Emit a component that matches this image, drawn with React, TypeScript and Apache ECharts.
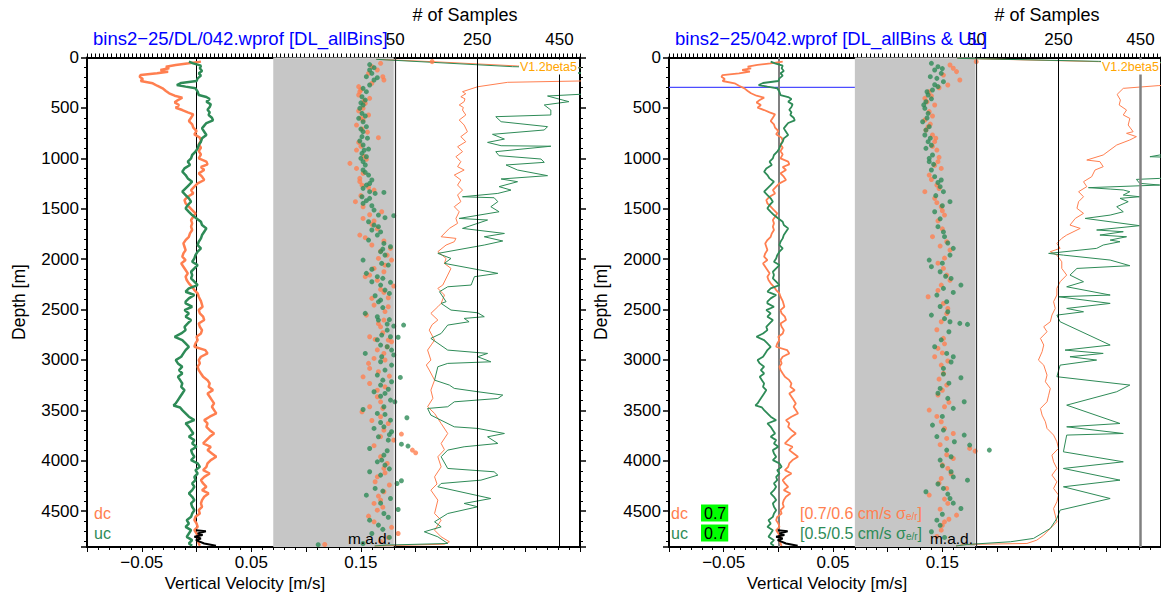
import React, { useEffect, useRef } from 'react';
import * as echarts from 'echarts';

const depthTicks = [0, 500, 1000, 1500, 2000, 2500, 3000, 3500, 4000, 4500];
const velTicks = [-0.05, 0.05, 0.15];
const sampleTicks = [50, 250, 450];

// [vertical velocity m/s, depth m]
const dcW = [[0.004,41],[-0.007,58],[-0.019,74],[-0.028,91],[-0.025,107],[-0.033,124],[-0.026,141],[-0.036,157],[-0.051,174],[-0.052,190],[-0.049,213],[-0.051,233],[-0.040,256],[-0.036,280],[-0.031,306],[-0.028,332],[-0.025,355],[-0.020,379],[-0.013,398],[-0.017,422],[-0.020,445],[-0.016,471],[-0.019,498],[-0.013,521],[-0.008,544],[-0.003,564],[-0.005,597],[-0.007,630],[-0.004,663],[-0.003,696],[0.000,729],[-0.002,762],[0.003,795],[0.004,828],[0.002,862],[0.004,895],[0.002,928],[0.004,961],[0.002,1000],[0.009,1033],[0.010,1060],[0.004,1086],[0.007,1116],[0.002,1149],[0.005,1182],[0.007,1215],[0.001,1248],[-0.002,1281],[-0.005,1315],[-0.003,1348],[-0.008,1381],[-0.011,1414],[-0.010,1447],[-0.007,1480],[-0.004,1513],[-0.001,1546],[-0.003,1579],[-0.005,1612],[-0.004,1645],[-0.005,1678],[-0.004,1711],[-0.006,1745],[-0.007,1778],[-0.010,1811],[-0.012,1844],[-0.011,1877],[-0.010,1910],[-0.012,1943],[-0.013,1976],[-0.010,2009],[-0.014,2042],[-0.012,2075],[-0.010,2108],[-0.008,2141],[-0.010,2174],[-0.009,2207],[-0.007,2240],[-0.004,2274],[-0.002,2307],[0.001,2340],[0.002,2373],[0.004,2416],[0.0055,2472],[0.002,2505],[0.003,2538],[0.006,2571],[0.007,2604],[0.002,2638],[0.003,2671],[0.005,2704],[0.004,2737],[0.000,2770],[0.001,2803],[-0.001,2836],[-0.002,2869],[0.008,2902],[0.010,2935],[0.004,2968],[0.002,3001],[0.003,3034],[0.001,3067],[0.002,3100],[0.004,3134],[0.006,3167],[0.010,3200],[0.012,3233],[0.011,3266],[0.015,3299],[0.010,3332],[0.012,3365],[0.014,3398],[0.016,3431],[0.014,3464],[0.016,3497],[0.018,3530],[0.012,3563],[0.007,3597],[0.010,3630],[0.009,3663],[0.012,3696],[0.016,3729],[0.012,3762],[0.009,3795],[0.006,3828],[0.013,3861],[0.010,3894],[0.014,3927],[0.018,3960],[0.013,3993],[0.010,4026],[0.009,4060],[0.006,4093],[0.012,4126],[0.007,4159],[0.004,4192],[0.006,4225],[0.009,4258],[0.005,4291],[0.011,4324],[0.007,4357],[0.005,4390],[0.004,4423],[0.005,4456],[0.002,4490],[0.003,4523],[-0.001,4556],[-0.002,4589],[0.000,4622],[0.001,4655],[-0.002,4688],[0.000,4721],[0.002,4754],[0.001,4787],[0.002,4820],[0.003,4843]];

const ucW = [[-0.007,41],[-0.003,58],[0.004,81],[0.003,107],[0.005,134],[0.002,157],[0.004,180],[0.001,207],[0.000,233],[-0.014,253],[-0.018,273],[-0.010,289],[-0.001,306],[0.001,339],[0.002,372],[0.009,392],[0.012,412],[0.009,438],[0.013,465],[0.012,491],[0.010,518],[0.012,544],[0.011,570],[0.014,597],[0.015,623],[0.009,650],[0.007,676],[0.005,703],[0.007,736],[0.009,769],[0.005,802],[0.004,835],[0.002,868],[0.001,901],[-0.001,934],[-0.004,967],[-0.005,1000],[-0.008,1033],[-0.006,1066],[-0.011,1100],[-0.013,1133],[-0.010,1166],[-0.008,1199],[-0.004,1232],[-0.007,1265],[-0.010,1298],[-0.013,1331],[-0.010,1364],[-0.007,1397],[-0.005,1430],[-0.008,1463],[-0.010,1496],[-0.007,1530],[-0.004,1563],[0.000,1596],[0.004,1629],[0.005,1662],[0.009,1695],[0.007,1728],[0.005,1761],[0.004,1794],[0.002,1827],[0.001,1860],[0.004,1893],[0.001,1926],[-0.001,1960],[-0.002,1993],[-0.004,2026],[0.001,2059],[-0.002,2092],[-0.005,2125],[-0.004,2158],[-0.005,2191],[-0.002,2224],[0.001,2257],[-0.007,2290],[-0.010,2323],[-0.002,2356],[-0.007,2389],[-0.010,2422],[-0.010,2439],[-0.004,2472],[-0.011,2505],[-0.007,2538],[-0.010,2571],[-0.005,2604],[-0.008,2638],[-0.011,2671],[-0.010,2704],[-0.014,2737],[-0.020,2770],[-0.013,2803],[-0.010,2836],[-0.007,2869],[-0.010,2902],[-0.012,2935],[-0.014,2968],[-0.019,3001],[-0.017,3034],[-0.013,3067],[-0.016,3100],[-0.013,3134],[-0.017,3167],[-0.015,3200],[-0.013,3233],[-0.014,3266],[-0.011,3299],[-0.013,3332],[-0.015,3365],[-0.017,3398],[-0.019,3431],[-0.021,3451],[-0.015,3471],[-0.013,3497],[-0.010,3530],[-0.007,3563],[-0.002,3597],[-0.010,3630],[-0.007,3663],[-0.005,3696],[-0.003,3729],[-0.007,3762],[-0.002,3795],[-0.004,3828],[0.000,3861],[-0.005,3894],[-0.004,3927],[-0.002,3960],[-0.005,3993],[0.001,4026],[0.003,4060],[-0.001,4093],[0.001,4126],[-0.002,4159],[-0.001,4192],[-0.004,4225],[-0.002,4258],[-0.004,4291],[-0.007,4324],[-0.004,4357],[-0.002,4390],[-0.005,4423],[-0.004,4456],[-0.002,4490],[-0.004,4523],[-0.005,4556],[-0.009,4589],[-0.007,4622],[-0.010,4655],[-0.005,4688],[-0.007,4721],[-0.009,4754],[-0.004,4787],[-0.007,4820],[-0.004,4843]];

const btW = [[-0.0006,4688],[0.0085,4698],[0.001,4721],[0.0055,4737],[-0.002,4754],[0.004,4771],[-0.0006,4787],[0.007,4820],[0.0177,4843]];

// m.a.d. dots [m/s, depth m]
const dcMadL = [[0.215,41],[0.168,58],[0.160,90],[0.165,124],[0.157,157],[0.170,190],[0.171,223],[0.160,256],[0.148,289],[0.150,320],[0.149,339],[0.148,372],[0.158,405],[0.153,430],[0.154,455],[0.152,504],[0.148,530],[0.157,570],[0.150,600],[0.152,620],[0.146,670],[0.151,709],[0.156,740],[0.166,795],[0.148,842],[0.150,880],[0.146,918],[0.153,980],[0.155,1010],[0.140,1050],[0.146,1100],[0.152,1149],[0.149,1199],[0.149,1230],[0.151,1265],[0.157,1290],[0.162,1315],[0.150,1370],[0.145,1430],[0.152,1480],[0.169,1530],[0.158,1560],[0.152,1596],[0.162,1622],[0.160,1655],[0.165,1700],[0.149,1761],[0.154,1787],[0.171,1820],[0.160,1860],[0.177,1893],[0.168,1920],[0.174,1960],[0.166,1993],[0.178,2009],[0.172,2060],[0.162,2092],[0.171,2125],[0.158,2158],[0.154,2174],[0.165,2210],[0.180,2267],[0.168,2300],[0.171,2330],[0.175,2383],[0.160,2389],[0.162,2456],[0.175,2472],[0.172,2520],[0.155,2555],[0.171,2604],[0.166,2640],[0.168,2671],[0.170,2730],[0.158,2770],[0.163,2796],[0.175,2803],[0.178,2819],[0.174,2869],[0.165,2900],[0.171,2935],[0.162,2985],[0.172,3000],[0.157,3034],[0.158,3084],[0.166,3117],[0.176,3160],[0.152,3167],[0.158,3233],[0.172,3266],[0.165,3300],[0.165,3365],[0.168,3415],[0.158,3464],[0.170,3480],[0.151,3514],[0.168,3563],[0.160,3600],[0.175,3630],[0.171,3696],[0.187,3735],[0.168,3760],[0.180,3795],[0.162,3850],[0.197,3894],[0.200,3921],[0.168,3960],[0.174,4026],[0.171,4076],[0.172,4120],[0.165,4159],[0.163,4208],[0.176,4240],[0.171,4307],[0.166,4350],[0.168,4390],[0.162,4423],[0.170,4460],[0.165,4490],[0.157,4549],[0.162,4605],[0.178,4660],[0.184,4721],[0.175,4761],[0.168,4800],[0.117,4830]];

const ucMadL = [[0.158,70],[0.162,101],[0.158,124],[0.160,157],[0.155,190],[0.165,200],[0.162,223],[0.158,273],[0.152,306],[0.155,339],[0.151,389],[0.154,422],[0.150,450],[0.152,471],[0.149,504],[0.151,554],[0.154,580],[0.148,603],[0.152,637],[0.155,686],[0.150,710],[0.152,736],[0.151,785],[0.156,800],[0.149,828],[0.152,868],[0.157,908],[0.153,920],[0.151,951],[0.155,984],[0.150,1000],[0.152,1033],[0.154,1066],[0.152,1116],[0.154,1140],[0.157,1166],[0.160,1215],[0.158,1250],[0.155,1265],[0.152,1298],[0.158,1331],[0.163,1348],[0.171,1338],[0.151,1381],[0.158,1397],[0.155,1420],[0.152,1447],[0.160,1470],[0.162,1513],[0.166,1563],[0.172,1589],[0.180,1569],[0.157,1629],[0.162,1662],[0.166,1678],[0.160,1711],[0.168,1730],[0.165,1761],[0.157,1811],[0.171,1844],[0.177,1877],[0.170,1900],[0.168,1926],[0.172,1960],[0.152,2009],[0.169,2042],[0.175,2059],[0.160,2100],[0.155,2141],[0.165,2174],[0.170,2190],[0.160,2224],[0.177,2230],[0.168,2257],[0.172,2307],[0.176,2340],[0.163,2363],[0.168,2406],[0.166,2423],[0.170,2480],[0.154,2538],[0.165,2571],[0.166,2604],[0.176,2600],[0.174,2644],[0.180,2664],[0.189,2654],[0.174,2704],[0.169,2753],[0.177,2770],[0.184,2775],[0.165,2800],[0.168,2852],[0.174,2869],[0.178,2902],[0.154,2935],[0.180,2950],[0.169,2968],[0.168,3018],[0.178,3051],[0.172,3100],[0.165,3150],[0.186,3173],[0.170,3200],[0.178,3216],[0.168,3249],[0.175,3290],[0.162,3315],[0.172,3332],[0.168,3360],[0.177,3398],[0.181,3415],[0.171,3464],[0.152,3491],[0.165,3530],[0.172,3540],[0.177,3597],[0.192,3573],[0.168,3620],[0.171,3663],[0.162,3679],[0.178,3712],[0.176,3740],[0.166,3762],[0.175,3795],[0.187,3835],[0.193,3854],[0.158,3878],[0.174,3900],[0.171,3944],[0.169,3993],[0.165,4010],[0.172,4043],[0.176,4080],[0.158,4109],[0.168,4142],[0.183,4225],[0.187,4198],[0.163,4274],[0.170,4300],[0.155,4341],[0.177,4374],[0.168,4420],[0.184,4483],[0.171,4523],[0.175,4560],[0.158,4589],[0.166,4638],[0.170,4680],[0.160,4721],[0.176,4760],[0.152,4820],[0.111,4832]];

const dcMadR = [[0.181,41],[0.157,74],[0.160,107],[0.163,140],[0.151,174],[0.166,223],[0.155,273],[0.147,300],[0.138,339],[0.140,380],[0.134,405],[0.136,440],[0.143,471],[0.138,537],[0.141,580],[0.134,620],[0.139,660],[0.137,686],[0.135,720],[0.141,769],[0.144,800],[0.143,835],[0.141,880],[0.145,918],[0.147,990],[0.146,1033],[0.143,1070],[0.149,1100],[0.138,1166],[0.140,1210],[0.145,1265],[0.147,1300],[0.134,1331],[0.143,1397],[0.145,1440],[0.149,1480],[0.150,1520],[0.152,1563],[0.146,1620],[0.150,1700],[0.141,1777],[0.154,1827],[0.148,1870],[0.157,1910],[0.152,1990],[0.146,2040],[0.151,2092],[0.154,2158],[0.157,2210],[0.149,2257],[0.146,2310],[0.137,2373],[0.151,2439],[0.155,2489],[0.154,2540],[0.149,2621],[0.145,2700],[0.151,2786],[0.152,2840],[0.146,2885],[0.150,2930],[0.143,2968],[0.155,3010],[0.149,3051],[0.151,3133],[0.147,3190],[0.154,3249],[0.150,3300],[0.146,3348],[0.156,3420],[0.152,3464],[0.138,3497],[0.145,3560],[0.149,3613],[0.152,3680],[0.160,3729],[0.154,3778],[0.148,3840],[0.175,3877],[0.180,3904],[0.154,3940],[0.160,3977],[0.150,4040],[0.155,4076],[0.158,4130],[0.149,4175],[0.147,4220],[0.154,4274],[0.138,4340],[0.152,4380],[0.155,4423],[0.148,4480],[0.163,4539],[0.156,4580],[0.152,4605],[0.150,4640],[0.149,4688],[0.145,4750]];

const ucMadR = [[0.140,58],[0.146,91],[0.150,110],[0.143,124],[0.149,157],[0.139,190],[0.145,207],[0.151,240],[0.143,270],[0.146,289],[0.141,322],[0.136,340],[0.137,372],[0.140,410],[0.135,438],[0.133,470],[0.134,504],[0.137,554],[0.136,600],[0.132,637],[0.138,686],[0.135,720],[0.134,769],[0.139,800],[0.137,835],[0.140,870],[0.135,901],[0.141,967],[0.138,1000],[0.138,1033],[0.142,1060],[0.140,1116],[0.143,1182],[0.149,1215],[0.146,1240],[0.148,1281],[0.151,1331],[0.144,1370],[0.157,1430],[0.150,1470],[0.143,1530],[0.148,1600],[0.146,1678],[0.151,1730],[0.152,1777],[0.155,1840],[0.160,1893],[0.157,1960],[0.138,2009],[0.150,2040],[0.140,2075],[0.148,2125],[0.153,2170],[0.158,2191],[0.167,2257],[0.151,2290],[0.160,2330],[0.145,2356],[0.154,2422],[0.148,2470],[0.155,2522],[0.140,2555],[0.152,2590],[0.157,2621],[0.166,2637],[0.173,2647],[0.156,2720],[0.149,2800],[0.143,2869],[0.154,2935],[0.160,2968],[0.158,3020],[0.151,3084],[0.151,3140],[0.167,3176],[0.156,3230],[0.148,3282],[0.146,3330],[0.155,3381],[0.170,3414],[0.160,3480],[0.150,3560],[0.141,3646],[0.151,3695],[0.170,3745],[0.145,3760],[0.161,3811],[0.175,3844],[0.154,3894],[0.193,3894],[0.158,3960],[0.148,3993],[0.150,4050],[0.158,4109],[0.160,4160],[0.173,4192],[0.146,4230],[0.151,4274],[0.135,4307],[0.155,4330],[0.157,4374],[0.160,4420],[0.167,4473],[0.150,4530],[0.145,4589],[0.148,4640],[0.140,4704],[0.152,4760]];

// number of samples [count, depth m]
const dcNL = [[4,18],[140,41],[348,84],[600,110],[600,200],[500,233],[324,246],[251,290],[214,339],[222,360],[210,389],[220,410],[218,438],[206,471],[216,495],[214,521],[222,570],[206,620],[218,670],[226,736],[210,785],[222,835],[202,885],[214,934],[198,984],[210,1033],[202,1083],[218,1116],[194,1166],[210,1215],[202,1265],[214,1315],[202,1364],[210,1430],[194,1480],[206,1530],[198,1596],[202,1645],[182,1695],[162,1778],[198,1794],[194,1827],[174,1860],[154,1926],[174,1993],[170,2042],[186,2092],[178,2158],[166,2257],[154,2290],[170,2356],[162,2439],[154,2472],[137,2538],[154,2604],[140,2650],[133,2704],[146,2803],[138,2850],[129,2902],[137,3001],[126,3050],[133,3100],[146,3200],[137,3299],[142,3380],[129,3464],[146,3530],[162,3630],[178,3729],[162,3828],[170,3890],[154,3960],[162,4060],[146,4159],[152,4230],[137,4291],[154,4390],[146,4523],[162,4589],[146,4688],[162,4754],[182,4803],[170,4827],[0,4845]];

const ucNL = [[4,18],[336,91],[600,110],[600,140],[478,154],[600,168],[600,350],[500,365],[421,382],[473,438],[413,471],[429,521],[429,570],[295,587],[308,637],[421,686],[413,719],[287,762],[316,809],[275,842],[308,875],[429,880],[295,934],[303,974],[405,1007],[413,1040],[320,1066],[348,1116],[421,1172],[308,1205],[348,1232],[303,1281],[332,1315],[300,1348],[214,1381],[291,1391],[300,1430],[283,1480],[303,1530],[206,1596],[275,1612],[214,1695],[316,1745],[267,1778],[312,1820],[267,1860],[154,1943],[186,1993],[170,2042],[300,2141],[243,2174],[235,2257],[178,2274],[158,2323],[174,2422],[162,2439],[186,2505],[251,2532],[267,2571],[218,2588],[230,2621],[178,2654],[162,2737],[137,2786],[178,2902],[275,2935],[251,2968],[283,3018],[178,3034],[154,3067],[146,3200],[182,3249],[194,3282],[251,3315],[312,3348],[300,3382],[194,3415],[178,3464],[129,3481],[137,3547],[194,3663],[251,3679],[316,3729],[275,3762],[300,3828],[218,3861],[178,3894],[162,3960],[178,4076],[291,4109],[300,4142],[259,4192],[162,4225],[154,4258],[283,4374],[218,4423],[251,4456],[178,4523],[146,4605],[162,4655],[121,4704],[154,4754],[178,4820],[28,4836],[0,4845]];

const dcNR = [[3,8],[347,41],[600,60],[600,260],[493,279],[408,306],[393,366],[401,422],[398,471],[416,521],[408,570],[424,604],[420,670],[432,736],[416,752],[440,785],[424,818],[392,868],[359,967],[319,1017],[351,1033],[359,1083],[339,1116],[331,1182],[311,1232],[319,1281],[299,1331],[311,1381],[299,1430],[295,1496],[311,1546],[291,1596],[278,1662],[303,1695],[270,1761],[258,1794],[246,1844],[254,1893],[230,1926],[246,1960],[258,2026],[258,2092],[270,2158],[254,2224],[246,2290],[246,2356],[238,2422],[242,2489],[234,2555],[230,2621],[214,2670],[222,2720],[206,2786],[214,2852],[210,2918],[201,3001],[214,3051],[222,3150],[218,3216],[230,3282],[226,3349],[222,3415],[206,3481],[210,3547],[218,3613],[222,3679],[238,3745],[246,3811],[250,3877],[234,3944],[238,4010],[246,4076],[234,4142],[246,4208],[238,4274],[250,4340],[246,4407],[238,4473],[242,4539],[246,4605],[230,4671],[214,4737],[197,4787],[173,4820],[19,4830],[0,4845]];

const ucNR = [[3,8],[347,38],[600,55],[600,955],[497,967],[473,984],[600,1000],[600,1190],[497,1199],[440,1209],[448,1248],[497,1265],[323,1291],[376,1305],[408,1314],[424,1331],[408,1364],[448,1381],[400,1397],[420,1430],[392,1480],[408,1530],[376,1563],[315,1596],[448,1668],[343,1711],[408,1728],[351,1761],[416,1778],[376,1811],[400,1827],[359,1860],[343,1893],[226,1943],[262,1960],[376,2009],[424,2065],[295,2092],[278,2158],[311,2224],[270,2274],[376,2356],[250,2373],[376,2439],[270,2489],[311,2522],[246,2555],[254,2621],[376,2852],[266,2902],[359,2935],[278,2968],[343,3001],[254,3051],[246,3166],[424,3249],[392,3315],[270,3448],[400,3630],[270,3663],[408,3729],[270,3745],[262,3911],[408,4010],[262,4076],[400,4192],[262,4258],[376,4374],[254,4489],[246,4572],[230,4671],[189,4770],[133,4803],[27,4830],[0,4845]];

const madBand = [0.07, 0.18];
const velRange = [-0.1, 0.35];
const ulDepth = 296;
const ulLine = [[velRange[0], ulDepth], [madBand[0], ulDepth]];

const ORANGE = '#FF7F50';
const GREEN = '#2E8B57';
const FONT = '"Liberation Sans", Arial, Helvetica, sans-serif';

function fmtVel(v: number) {
  const s = Math.abs(v).toFixed(2);
  return v < 0 ? '\u2212' + s : s;
}

function buildOption() {
  const gridTop = 57.5;
  const gridH = 489.5;
  const gridW = 493;
  const lefts = [87, 669];
  const grids = lefts.map((l) => ({ left: l, top: gridTop, width: gridW, height: gridH }));
  const axisLine = { show: true, onZero: false, lineStyle: { color: '#000', width: 2 } };
  const xAxis: any[] = [];
  const yAxis: any[] = [];
  lefts.forEach((_, gi) => {
    xAxis.push({
      type: 'value', gridIndex: gi, position: 'bottom', min: velRange[0], max: velRange[1], interval: 0.05,
      axisLine, axisTick: { show: true, length: 5, lineStyle: { color: '#000', width: 1 } },
      minorTick: { show: true, splitNumber: 5, length: 3, lineStyle: { color: '#000', width: 1 } },
      axisLabel: { customValues: velTicks, formatter: fmtVel, fontSize: 17, color: '#000', fontFamily: FONT, margin: 7 },
      splitLine: { show: false },
    });
    xAxis.push({
      type: 'value', gridIndex: gi, position: 'top', min: -700, max: 500, interval: 100,
      axisLine, axisTick: { show: true, length: 4, lineStyle: { color: '#000', width: 1 } },
      minorTick: { show: true, splitNumber: 10, length: 4, lineStyle: { color: '#000', width: 1 } },
      axisLabel: { customValues: sampleTicks, formatter: (v: number) => String(v), fontSize: 17, color: '#000', fontFamily: FONT, margin: 10 },
      splitLine: { show: false },
    });
    yAxis.push({
      type: 'value', gridIndex: gi, position: 'left', inverse: true, min: 0, max: 4855, interval: 500,
      axisLine, axisTick: { show: true, length: 6, lineStyle: { color: '#000', width: 1.5 } },
      minorTick: { show: true, splitNumber: 5, length: 3, lineStyle: { color: '#000', width: 1 } },
      axisLabel: { customValues: depthTicks, formatter: (v: number) => String(v), fontSize: 17, color: '#000', fontFamily: FONT, margin: 8 },
      splitLine: { show: false },
    });
    yAxis.push({
      type: 'value', gridIndex: gi, position: 'right', inverse: true, min: 0, max: 4855, interval: 500,
      axisLine, axisTick: { show: true, length: 6, lineStyle: { color: '#000', width: 1.5 } },
      minorTick: { show: true, splitNumber: 5, length: 3, lineStyle: { color: '#000', width: 1 } },
      axisLabel: { show: false },
      splitLine: { show: false },
    });
  });

  const series: any[] = [];
  const panelData = [
    { dcN: dcNL, ucN: ucNL, dcMad: dcMadL, ucMad: ucMadL, wWidth: 2.5, zeroColor: '#000', zeroWidth: 1, l450: '#000', l450w: 1 },
    { dcN: dcNR, ucN: ucNR, dcMad: dcMadR, ucMad: ucMadR, wWidth: 1.8, zeroColor: '#808080', zeroWidth: 2, l450: '#808080', l450w: 2.5 },
  ];
  panelData.forEach((p, gi) => {
    const vx = gi * 2;
    const sx = gi * 2 + 1;
    const yi = gi * 2;
    const base = { xAxisIndex: vx, yAxisIndex: yi, animation: false };
    series.push({
      ...base, type: 'line', data: [], z: 1, silent: true,
      markArea: { silent: true, itemStyle: { color: '#C6C6C6' }, data: [[{ xAxis: madBand[0] }, { xAxis: madBand[1] }]] },
      markLine: {
        silent: true, symbol: ['none', 'none'], label: { show: false },
        lineStyle: { color: p.zeroColor, width: p.zeroWidth, type: 'solid' },
        data: [{ xAxis: 0 }],
      },
    });
    if (gi === 1) {
      series.push({
        ...base, type: 'line', data: ulLine, z: 2, silent: true, showSymbol: false, symbol: 'none',
        color: '#4d4dff', lineStyle: { color: '#4d4dff', width: 1.2 },
      });
    }
    series.push({
      xAxisIndex: sx, yAxisIndex: yi, type: 'line', data: [], z: 2, silent: true,
      markLine: {
        silent: true, symbol: ['none', 'none'], label: { show: false },
        lineStyle: { color: '#000', width: 1, type: 'solid' },
        data: [
          { xAxis: sampleTicks[0], lineStyle: { color: '#333', width: 1.2 } },
          { xAxis: sampleTicks[1] },
          { xAxis: sampleTicks[2], lineStyle: { color: p.l450, width: p.l450w } },
        ],
      },
    });
    series.push({ ...base, type: 'line', data: dcW, showSymbol: false, symbol: 'none', z: 5, lineStyle: { color: ORANGE, width: p.wWidth } });
    series.push({ ...base, type: 'line', data: ucW, showSymbol: false, symbol: 'none', z: 6, lineStyle: { color: GREEN, width: p.wWidth } });
    series.push({ ...base, type: 'line', data: btW, showSymbol: false, symbol: 'none', z: 7, lineStyle: { color: '#000', width: 2 } });
    series.push({ ...base, type: 'scatter', data: p.dcMad, symbolSize: 5, z: 4, itemStyle: { color: ORANGE } });
    series.push({ ...base, type: 'scatter', data: p.ucMad, symbolSize: 5, z: 4, itemStyle: { color: GREEN } });
    series.push({ xAxisIndex: sx, yAxisIndex: yi, type: 'line', data: p.dcN, showSymbol: false, symbol: 'none', z: 3, lineStyle: { color: ORANGE, width: 1 } });
    series.push({ xAxisIndex: sx, yAxisIndex: yi, type: 'line', data: p.ucN, showSymbol: false, symbol: 'none', z: 3, lineStyle: { color: GREEN, width: 1 } });
  });

  const txt = (x: number, y: number, text: string, o: any = {}) => ({
    type: 'text', x, y, z: 100, silent: true,
    style: {
      text, fontFamily: FONT, fontSize: 16, fill: '#000',
      align: 'left', textAlign: 'left', verticalAlign: 'middle', textVerticalAlign: 'middle', ...o,
    },
  });

  const graphic: any[] = [];
  const off = [0, 582];
  const titles = ['bins2\u221225/DL/042.wprof [DL_allBins]', 'bins2\u221225/042.wprof [DL_allBins & UL]'];
  off.forEach((dx, gi) => {
    graphic.push(txt(93 + dx, 38, titles[gi], { fill: '#0000FF', fontSize: 18.5 }));
    graphic.push(txt(465 + dx, 15, '# of Samples', { align: 'center', textAlign: 'center', fontSize: 18 }));
    graphic.push({
      type: 'text', x: 19 + dx, y: 302, rotation: Math.PI / 2, z: 100, silent: true,
      style: { text: 'Depth [m]', fontFamily: FONT, fontSize: 17.5, fill: '#000', align: 'center', textAlign: 'center', verticalAlign: 'middle', textVerticalAlign: 'middle' },
    });
    graphic.push(txt(245 + dx, 583, 'Vertical Velocity [m/s]', { align: 'center', textAlign: 'center', fontSize: 17 }));
    graphic.push(txt(578 + dx, 67, 'V1.2beta5', { align: 'right', textAlign: 'right', fontSize: 12.5, fill: '#FFA500', backgroundColor: '#fff', padding: [1, 1] }));
    graphic.push(txt(391 + dx, 538, 'm.a.d.', { align: 'right', textAlign: 'right', fontSize: 15.5 }));
    graphic.push(txt(94 + dx - (gi ? 5 : 0), 513, 'dc', { fill: ORANGE }));
    graphic.push(txt(94 + dx - (gi ? 5 : 0), 533, 'uc', { fill: GREEN }));
  });
  graphic.push(txt(701, 513, '0.7', { backgroundColor: '#00FF00', padding: [1, 2, 0, 3] }));
  graphic.push(txt(701, 533, '0.7', { backgroundColor: '#00FF00', padding: [1, 2, 0, 3] }));
  const sub = (fill: string) => ({
    a: { fontSize: 16, fontFamily: FONT, fill, lineHeight: 16 },
    b: { fontSize: 10, fontFamily: FONT, fill, verticalAlign: 'bottom', lineHeight: 6 },
  });
  graphic.push(txt(800, 513, '{a|[0.7/0.6 cm/s \u03c3}{b|e/r}{a|]}', { fill: ORANGE, rich: sub(ORANGE) }));
  graphic.push(txt(800, 533, '{a|[0.5/0.5 cm/s \u03c3}{b|e/r}{a|]}', { fill: GREEN, rich: sub(GREEN) }));

  return { animation: false, backgroundColor: '#fff', grid: grids, xAxis, yAxis, series, graphic };
}

export default function App() {
  const ref = useRef<HTMLDivElement>(null);
  useEffect(() => {
    const chart = echarts.init(ref.current!, null, { renderer: 'svg' });
    chart.setOption(buildOption() as any);
    return () => chart.dispose();
  }, []);
  return <div ref={ref} style={{ position: 'fixed', left: 0, top: 0, width: 1161, height: 606, background: '#fff' }} />;
}
